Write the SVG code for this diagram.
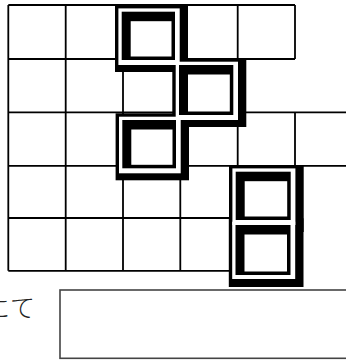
<svg xmlns="http://www.w3.org/2000/svg" width="346" height="360" viewBox="0 0 346 360">
<style>
.grid{fill:none;stroke:#000;stroke-width:1.8}
.bk{fill:#000}
.wh{fill:#fff}
.lbl{font-family:"Noto Sans CJK JP","Noto Sans",sans-serif;font-size:25px;font-weight:300;fill:#222}
</style>
<rect x="0" y="0" width="346" height="360" fill="#fff"/>
<g id="grid">
<path class="grid" d="M8.3 5H295M8.3 59H295M8.3 112.3H346M8.3 165.8H346M8.3 218H295M8.3 270.8H295M8.3 5V270.8M65.7 5V270.8M123 5V270.8M180.3 5V270.8M237.7 5V270.8M295 5V59M295 112.3V165.8"/>
</g>
<g id="pieces">
<g id="backdrop">
<rect class="bk" x="115" y="5" width="73" height="67"/>
<rect class="bk" x="172.3" y="58.3" width="74" height="68.7"/>
<rect class="bk" x="115.6" y="113.3" width="73.4" height="67"/>
<rect class="bk" x="229" y="165" width="74.7" height="67"/>
<rect class="bk" x="228.8" y="218.3" width="74.7" height="68.7"/>
</g>
<g id="rings">
<rect class="wh" x="118.4" y="8.4" width="61.3" height="56.6"/>
<rect class="wh" x="175.7" y="61.7" width="62.3" height="58.3"/>
<rect class="wh" x="119" y="116.7" width="61.7" height="56.6"/>
<rect class="wh" x="232.4" y="168.4" width="63" height="56.6"/>
<rect class="wh" x="232.2" y="221.7" width="63" height="57.3"/>
</g>
<g id="frames">
<rect class="bk" x="121.7" y="11.7" width="53.3" height="48.3"/>
<rect class="bk" x="179" y="65" width="54.3" height="50"/>
<rect class="bk" x="122.3" y="120" width="53.7" height="48.3"/>
<rect class="bk" x="235.7" y="171.7" width="55" height="48.3"/>
<rect class="bk" x="235.5" y="225" width="55" height="50"/>
</g>
<g id="holes">
<rect class="wh" x="130.7" y="21.2" width="40.8" height="35.3"/>
<rect class="wh" x="188" y="74.5" width="41.8" height="37"/>
<rect class="wh" x="131.3" y="129.5" width="41.2" height="35.3"/>
<rect class="wh" x="244.7" y="181.2" width="42.5" height="35.3"/>
<rect class="wh" x="244.5" y="234.5" width="42.5" height="37"/>
</g>
</g>
<g id="answer">
<text class="lbl" x="-15" y="317">にて</text>
<rect x="60" y="290" width="300" height="68.3" fill="none" stroke="#444" stroke-width="1.6"/>
</g>
</svg>
